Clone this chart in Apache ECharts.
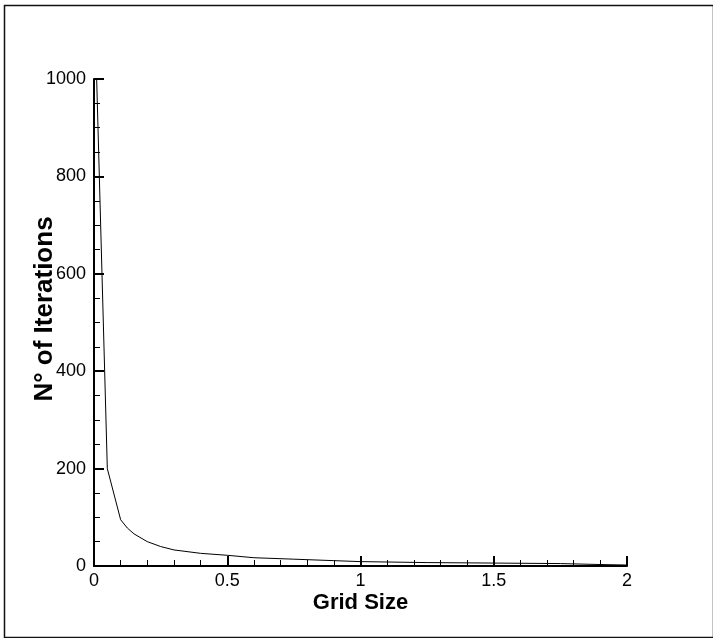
<!DOCTYPE html>
<html>
<head>
<meta charset="utf-8">
<title>Iterations vs Grid Size</title>
<script src="https://cdn.jsdelivr.net/npm/echarts@6/dist/echarts.min.js"></script>
<style>
  html, body { margin: 0; padding: 0; background: #ffffff; }
  #chart { width: 713px; height: 638px; }
</style>
</head>
<body>
<div id="chart"></div>
<script>
// Grid spacing and the number of solver iterations needed at each spacing
const gridSize   = [0.01, 0.05, 0.1, 0.125, 0.15, 0.2, 0.25, 0.3, 0.4, 0.5, 0.6, 0.75, 0.9, 1, 1.25, 1.5, 1.75, 1.9, 2];
const iterations = [1000, 200, 95, 78, 66, 50, 40, 33, 26, 22, 17, 14, 11, 9, 7, 6, 5, 3, 2];

const xTicks = [0, 0.5, 1, 1.5, 2];
const yTicks = [0, 200, 400, 600, 800, 1000];

const xAxisTitle = 'Grid Size';
const yAxisTitle = 'N\u00B0 of Iterations';

const FONT = '"Liberation Sans", Arial, Helvetica, sans-serif';

const points = gridSize.map((g, i) => [g, iterations[i]]);

const chart = echarts.init(document.getElementById('chart'), null, { renderer: 'canvas' });

const axisCommon = {
  type: 'value',
  axisLine: { show: true, lineStyle: { color: '#000', width: 2 } },
  axisTick: { show: true, inside: true, length: 10, lineStyle: { color: '#000', width: 2 } },
  minorTick: { show: true, splitNumber: 5, length: 6, lineStyle: { color: '#000', width: 1 } },
  splitLine: { show: false },
  axisLabel: { color: '#000', fontFamily: FONT, fontSize: 18, formatter: (v) => String(v) }
};

chart.setOption({
  backgroundColor: '#ffffff',
  animation: false,
  grid: { left: 94, right: 86, top: 79, bottom: 72, containLabel: false },
  xAxis: Object.assign({}, axisCommon, {
    min: xTicks[0],
    max: xTicks[xTicks.length - 1],
    interval: xTicks[1] - xTicks[0],
    name: xAxisTitle,
    nameLocation: 'middle',
    nameGap: 26,
    nameMoveOverlap: false,
    nameTextStyle: { color: '#000', fontFamily: FONT, fontSize: 22, fontWeight: 'bold' },
    axisLabel: Object.assign({}, axisCommon.axisLabel, { margin: 6 })
  }),
  yAxis: Object.assign({}, axisCommon, {
    min: yTicks[0],
    max: yTicks[yTicks.length - 1],
    interval: yTicks[1] - yTicks[0],
    minorTick: Object.assign({}, axisCommon.minorTick, { splitNumber: 4 }),
    name: yAxisTitle,
    nameLocation: 'middle',
    nameGap: 36,
    nameMoveOverlap: false,
    nameTextStyle: { color: '#000', fontFamily: FONT, fontSize: 26, fontWeight: 'bold', padding: [0, 0, 0, 27] },
    axisLabel: Object.assign({}, axisCommon.axisLabel, { margin: 8 })
  }),
  series: [{
    type: 'line',
    data: points,
    showSymbol: false,
    smooth: false,
    lineStyle: { color: '#000', width: 1 },
    z: 1
  }],
  graphic: [{
    type: 'rect',
    left: 2, top: 3,
    shape: { width: 709, height: 632 },
    style: { fill: 'none', stroke: '#111', lineWidth: 1.5 },
    silent: true
  }]
});
</script>
</body>
</html>
